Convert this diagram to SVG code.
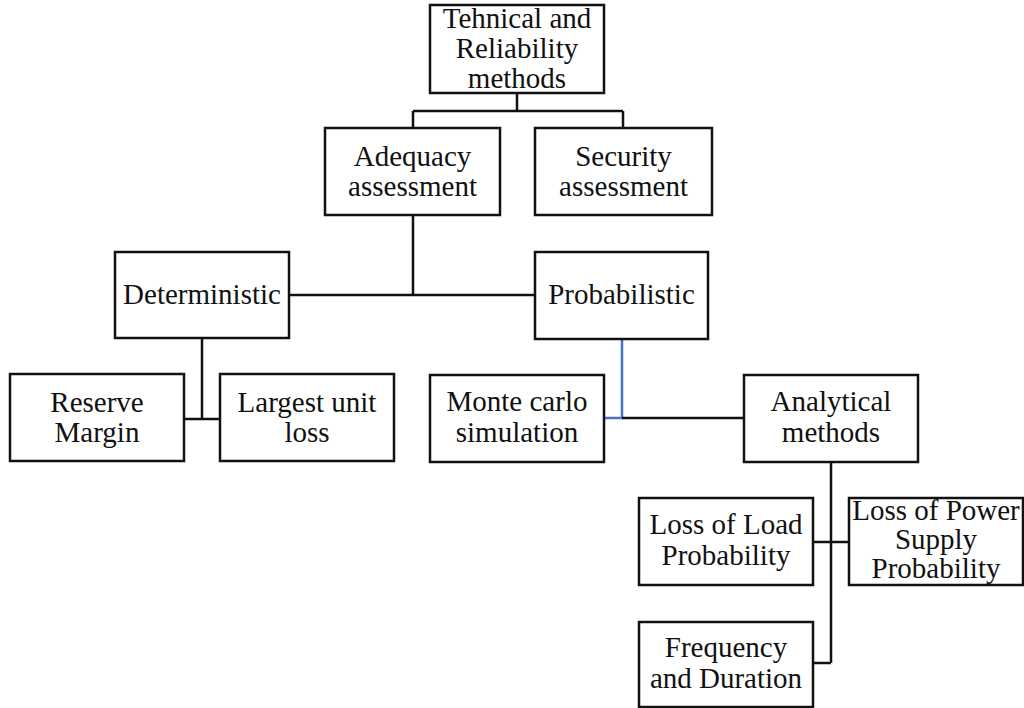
<svg xmlns="http://www.w3.org/2000/svg" width="1024" height="708" viewBox="0 0 1024 708">
<style>
.box{fill:#fff;stroke:#111;stroke-width:2.5}
.t{font-family:'Liberation Serif',serif;font-size:29px;fill:#111;text-anchor:middle}
.c{fill:none;stroke:#111;stroke-width:2.5}
.cb{fill:none;stroke:#4472C4;stroke-width:2.5}
</style>
<rect width="1024" height="708" fill="#fff"/>
<g id="connectors">
<path class="c" d="M517 93V111M413 111H623M413 111V128M623 111V128"/>
<path class="c" d="M413 215V295M289 295H535"/>
<path class="c" d="M202 338V419M184 419H220"/>
<path class="cb" d="M622 339V418H604"/>
<path class="c" d="M622 418H744"/>
<path class="c" d="M831 462V663M813 542H849M813 663H831"/>
</g>
<g id="root"><rect class="box" x="430" y="5" width="174" height="88"/>
<text class="t" font-family="Liberation Serif" x="517" y="28">Tehnical and</text><text class="t" font-family="Liberation Serif" x="517" y="58">Reliability</text><text class="t" font-family="Liberation Serif" x="517" y="88">methods</text></g>
<g id="adequacy"><rect class="box" x="325" y="128" width="175" height="87"/>
<text class="t" x="412.5" y="166">Adequacy</text><text class="t" x="412.5" y="196">assessment</text></g>
<g id="security"><rect class="box" x="535" y="128" width="177" height="87"/>
<text class="t" x="623.5" y="166">Security</text><text class="t" x="623.5" y="196">assessment</text></g>
<g id="deterministic"><rect class="box" x="115" y="252" width="174" height="86"/>
<text class="t" x="202" y="304">Deterministic</text></g>
<g id="probabilistic"><rect class="box" x="535" y="252" width="173" height="87"/>
<text class="t" x="621.5" y="304">Probabilistic</text></g>
<g id="reserve"><rect class="box" x="10" y="374" width="174" height="87"/>
<text class="t" x="97" y="412">Reserve</text><text class="t" x="97" y="442">Margin</text></g>
<g id="largest"><rect class="box" x="220" y="374" width="174" height="87"/>
<text class="t" x="307" y="412">Largest unit</text><text class="t" x="307" y="442">loss</text></g>
<g id="montecarlo"><rect class="box" x="430" y="375" width="174" height="87"/>
<text class="t" x="517" y="411">Monte carlo</text><text class="t" x="517" y="442">simulation</text></g>
<g id="analytical"><rect class="box" x="744" y="375" width="174" height="87"/>
<text class="t" x="831" y="411">Analytical</text><text class="t" x="831" y="442">methods</text></g>
<g id="lolp"><rect class="box" x="639" y="498" width="174" height="87"/>
<text class="t" x="726" y="534">Loss of Load</text><text class="t" x="726" y="565">Probability</text></g>
<g id="lpsp"><rect class="box" x="849" y="498" width="174" height="87"/>
<text class="t" x="936" y="520">Loss of Power</text><text class="t" x="936" y="549">Supply</text><text class="t" x="936" y="578">Probability</text></g>
<g id="freq"><rect class="box" x="639" y="622" width="174" height="85"/>
<text class="t" x="726" y="657">Frequency</text><text class="t" x="726" y="688">and Duration</text></g>
</svg>
